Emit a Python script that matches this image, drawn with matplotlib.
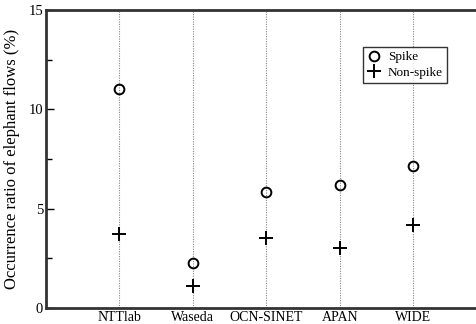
import matplotlib
matplotlib.use("Agg")
import matplotlib.pyplot as plt
from matplotlib.ticker import MultipleLocator

# ---------------------
# Data
# ---------------------
sites = ["NTTlab", "Waseda", "OCN-SINET", "APAN", "WIDE"]
spike = [11.0, 2.25, 5.85, 6.2, 7.15]
non_spike = [3.75, 1.1, 3.5, 3.0, 4.18]

plt.rcParams["font.family"] = ["Liberation Serif", "DejaVu Serif"]

# ---------------------
# Figure
# ---------------------
fig = plt.figure(figsize=(4.77, 3.24), dpi=100)
ax_w = 1.02 - 46 / 477
ax = fig.add_axes([46 / 477, 16 / 324, ax_w, 298 / 324])

xpos = list(range(1, len(sites) + 1))
for x in xpos:
    ax.axvline(x, color="#888888", linestyle=(0, (1, 1.2)), linewidth=0.8, zorder=0)

ax.plot(xpos, spike, linestyle="none", marker="o", markersize=7,
        markerfacecolor="none", markeredgecolor="black", markeredgewidth=1.4,
        label="Spike")
ax.plot(xpos, non_spike, linestyle="none", marker="+", markersize=10,
        color="black", markeredgewidth=1.4, label="Non-spike")

ax.set_xlim(0, 6)
ax.set_ylim(0, 15)
ax.set_xticks(xpos)
ax.set_xticklabels(sites, fontsize=10)
ax.tick_params(axis="x", length=0, pad=2)
ax.yaxis.set_major_locator(MultipleLocator(5))
ax.yaxis.set_minor_locator(MultipleLocator(2.5))
ax.tick_params(axis="y", which="both", direction="in", labelsize=10.5, pad=2)
ax.tick_params(axis="y", which="major", length=6, width=1)
ax.tick_params(axis="y", which="minor", length=4, width=1)

for side in ["left", "bottom", "top"]:
    ax.spines[side].set_linewidth(2)
    ax.spines[side].set_color("#333333")
ax.spines["right"].set_visible(False)

ax.set_ylabel("Occurrence ratio of elephant flows (%)", fontsize=12, labelpad=6)

leg = ax.legend(loc="upper left",
                bbox_to_anchor=((363 - 46) / (ax_w * 477), (308 - 47) / 298),
                borderaxespad=0, fontsize=9.5, frameon=True, fancybox=False,
                handlelength=1.0, handletextpad=0.6, borderpad=0.3, labelspacing=0.25)
leg.get_frame().set_edgecolor("black")
leg.get_frame().set_linewidth(1)

fig.savefig("out.png", dpi=100)
